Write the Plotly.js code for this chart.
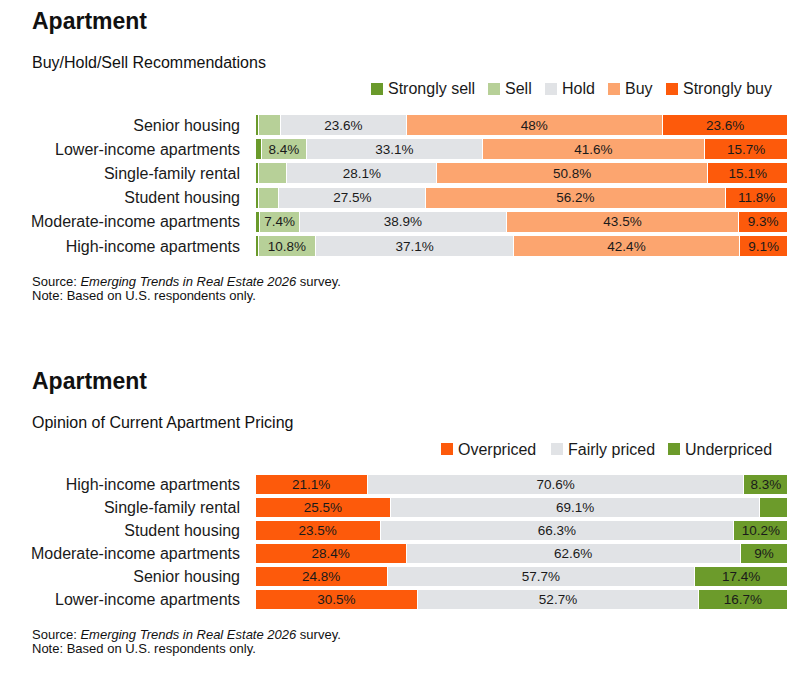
<!DOCTYPE html>
<html>
<head>
<meta charset="utf-8">
<script src="https://cdn.plot.ly/plotly-3.0.1.min.js"></script>
<style>
html,body{margin:0;padding:0;background:#fff;}
#chart{width:800px;height:673px;}
</style>
</head>
<body>
<div id="chart"></div>
<script>
// ---------- Data: Buy/Hold/Sell Recommendations ----------
const recCategories = ['Senior housing', 'Lower-income apartments', 'Single-family rental', 'Student housing', 'Moderate-income apartments', 'High-income apartments'];
const recSeries = ['Strongly sell', 'Sell', 'Hold', 'Buy', 'Strongly buy'];
const stronglySell = [0.6, 1.2, 0.6, 0.6, 0.9, 0.6];
const sell = [4.2, 8.4, 5.4, 3.9, 7.4, 10.8];
const hold = [23.6, 33.1, 28.1, 27.5, 38.9, 37.1];
const buy = [48, 41.6, 50.8, 56.2, 43.5, 42.4];
const stronglyBuy = [23.6, 15.7, 15.1, 11.8, 9.3, 9.1];

// ---------- Data: Opinion of Current Apartment Pricing ----------
const priceCategories = ['High-income apartments', 'Single-family rental', 'Student housing', 'Moderate-income apartments', 'Senior housing', 'Lower-income apartments'];
const priceSeries = ['Overpriced', 'Fairly priced', 'Underpriced'];
const overpriced = [21.1, 25.5, 23.5, 28.4, 24.8, 30.5];
const fairlyPriced = [70.6, 69.1, 66.3, 62.6, 57.7, 52.7];
const underpriced = [8.3, 5.4, 10.2, 9, 17.4, 16.7];

const FONT = 'Liberation Sans, Arial, Helvetica, sans-serif';
const TXT = '#1a1a1a';
const H = 673, W = 800;
const py = p => 1 - p / H;
const px = p => p / W;

function labels(vals) { return vals.map(v => v >= 7 ? v + '%' : ''); }

function bar(name, cats, vals, color, xa, ya) {
  return {
    type: 'bar', orientation: 'h', name: name,
    y: cats, x: vals,
    xaxis: xa, yaxis: ya, showlegend: false,
    marker: { color: color, line: { color: '#ffffff', width: 1 } },
    text: labels(vals), textposition: 'inside', insidetextanchor: 'middle',
    textangle: 0, constraintext: 'none',
    insidetextfont: { family: FONT, size: 13.5, color: TXT },
    hoverinfo: 'skip', cliponaxis: false
  };
}

const recColors = ['#6a9a2b', '#b7d098', '#e1e3e6', '#fca56f', '#fd5a0b'];
const priceColors = ['#fd5a0b', '#e1e3e6', '#6c9b2b'];

const recValues = [stronglySell, sell, hold, buy, stronglyBuy];
const priceValues = [overpriced, fairlyPriced, underpriced];

const data = [];
recSeries.forEach((n, i) => data.push(bar(n, recCategories, recValues[i], recColors[i], 'x', 'y')));
priceSeries.forEach((n, i) => data.push(bar(n, priceCategories, priceValues[i], priceColors[i], 'x2', 'y2')));

const xDom = [px(255), px(788)];
const yAxisCommon = {
  type: 'category', autorange: 'reversed', showgrid: false, zeroline: false,
  showline: false, ticks: '', ticklabelstandoff: 14,
  tickfont: { family: FONT, size: 16, color: TXT }, fixedrange: true
};
const xAxisCommon = { range: [0, 100.001], visible: false, fixedrange: true };

function note(x, y, text, size, bold) {
  return {
    xref: 'paper', yref: 'paper', x: px(x), y: py(y), xanchor: 'left', yanchor: 'middle',
    text: bold ? '<b>' + text + '</b>' : text, showarrow: false, align: 'left',
    font: { family: FONT, size: size, color: '#111' }
  };
}

const annotations = [
  note(30, 20.5, 'Apartment', 23, true),
  note(30, 62.5, 'Buy/Hold/Sell Recommendations', 16, false),
  note(30, 281.5, 'Source: <i>Emerging Trends in Real Estate 2026</i> survey.', 13, false),
  note(30, 295.5, 'Note: Based on U.S. respondents only.', 13, false),
  note(30, 380.5, 'Apartment', 23, true),
  note(30, 422.5, 'Opinion of Current Apartment Pricing', 16, false),
  note(30, 634, 'Source: <i>Emerging Trends in Real Estate 2026</i> survey.', 13, false),
  note(30, 648, 'Note: Based on U.S. respondents only.', 13, false)
];
const shapes = [];

// Legend entries (swatch + label), laid out like the reference
function legendRow(names, colors, textStarts, cy) {
  names.forEach((n, i) => {
    const t = textStarts[i];
    shapes.push({
      type: 'rect', xref: 'paper', yref: 'paper',
      x0: px(t - 17), x1: px(t - 5), y0: py(cy + 6), y1: py(cy - 6),
      fillcolor: colors[i], line: { width: 0 }
    });
    const a = note(t - 2, cy, n, 16, false);
    a.font.color = TXT;
    annotations.push(a);
  });
}
legendRow(recSeries, recColors, [388, 505, 562, 625, 683], 89);
legendRow(priceSeries, priceColors, [458, 568, 685], 449);

const layout = {
  width: W, height: H,
  margin: { l: 0, r: 0, t: 0, b: 0 },
  paper_bgcolor: '#ffffff', plot_bgcolor: '#ffffff',
  barmode: 'stack', bargap: 0.14,
  font: { family: FONT, color: TXT },
  showlegend: false,
  xaxis: Object.assign({ domain: xDom, anchor: 'y' }, xAxisCommon),
  yaxis: Object.assign({ domain: [py(258.1), py(112.9)], anchor: 'x' }, yAxisCommon),
  xaxis2: Object.assign({ domain: xDom, anchor: 'y2' }, xAxisCommon),
  yaxis2: Object.assign({ domain: [py(611), py(473.2)], anchor: 'x2' }, yAxisCommon),
  annotations: annotations,
  shapes: shapes
};

Plotly.newPlot('chart', data, layout, { displayModeBar: false, staticPlot: true });
</script>
</body>
</html>
